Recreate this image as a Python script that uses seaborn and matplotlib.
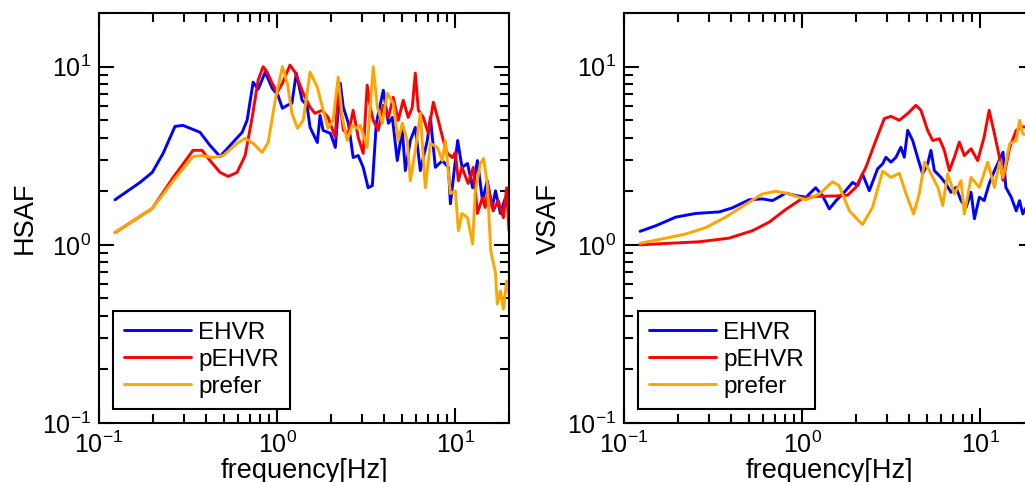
import matplotlib
matplotlib.use("Agg")
import matplotlib.pyplot as plt
import seaborn as sns
import pandas as pd

# ---------------- data ----------------
series_names = ["EHVR", "pEHVR", "prefer"]
series_colors = ["#0000ff", "#ff0000", "#ffa500"]

# Left panel: HSAF
h_ehvr_f = [0.123, 0.170, 0.199, 0.229, 0.267, 0.296, 0.369, 0.420, 0.478, 0.544,
            0.636, 0.678, 0.733, 0.782, 0.857, 0.937, 1.01, 1.07, 1.14, 1.21,
            1.28, 1.38, 1.47, 1.53, 1.68, 1.74, 1.81, 1.99, 2.12, 2.26,
            2.35, 2.51, 2.67, 2.85, 3.04, 3.24, 3.42, 3.60, 3.94, 4.21,
            4.43, 4.72, 5.04, 5.24, 5.59, 5.96, 6.36, 6.96, 7.24, 7.72,
            8.45, 9.14, 9.38, 10.3, 10.9, 11.7, 12.5, 13.3, 14.2, 15.1,
            16.1, 16.8, 17.9, 19.1, 20.0]
h_ehvr_v = [1.79, 2.24, 2.55, 3.26, 4.62, 4.68, 4.28, 3.61, 3.13, 3.61,
            4.28, 5.00, 8.18, 7.47, 9.31, 7.57, 6.91, 5.84, 6.07, 6.23,
            9.19, 6.48, 6.07, 4.56, 3.75, 5.33, 4.39, 4.22, 3.52, 8.07,
            5.91, 4.81, 3.09, 3.17, 2.72, 2.09, 2.15, 4.81, 7.37, 4.81,
            5.19, 2.97, 4.39, 2.61, 3.85, 4.56, 2.61, 3.85, 5.19, 2.72,
            2.97, 2.72, 1.70, 3.85, 2.72, 2.86, 2.09, 2.97, 1.77, 2.29,
            1.62, 2.01, 1.50, 1.84, 1.62]

h_pehvr_f = [0.123, 0.199, 0.261, 0.337, 0.379, 0.420, 0.478, 0.531, 0.596, 0.661,
             0.724, 0.782, 0.834, 0.879, 0.937, 1.00, 1.07, 1.18, 1.26, 1.40,
             1.53, 1.63, 1.79, 1.93, 2.12, 2.20, 2.35, 2.51, 2.67, 2.85,
             3.04, 3.20, 3.33, 3.46, 3.69, 3.94, 4.21, 4.48, 4.78, 5.10,
             5.44, 5.73, 5.96, 6.20, 6.61, 7.05, 7.52, 8.02, 8.56, 9.02,
             9.62, 10.0, 10.4, 10.9, 11.8, 12.6, 13.3, 14.2, 14.7, 15.3,
             16.3, 17.4, 18.6, 19.4, 20.0]
h_pehvr_v = [1.17, 1.60, 2.39, 3.39, 3.39, 2.97, 2.55, 2.42, 2.55, 3.17,
             5.19, 8.39, 10.0, 9.31, 8.07, 7.18, 8.07, 10.2, 9.31, 7.09,
             5.91, 5.47, 5.69, 5.19, 4.01, 7.57, 4.39, 4.22, 5.69, 4.01,
             3.26, 7.87, 5.91, 5.00, 4.39, 6.07, 5.19, 6.73, 5.00, 6.48,
             5.19, 5.91, 9.19, 5.69, 5.19, 4.22, 6.31, 5.00, 3.85, 3.26,
             3.09, 3.30, 2.29, 2.72, 2.21, 2.72, 1.50, 1.84, 1.62, 2.09,
             1.55, 1.77, 1.42, 2.09, 1.20]

h_prefer_f = [0.123, 0.199, 0.261, 0.337, 0.379, 0.437, 0.497, 0.596, 0.661, 0.733,
              0.824, 0.890, 0.975, 1.07, 1.14, 1.21, 1.30, 1.40, 1.53, 1.68,
              1.81, 1.93, 2.06, 2.20, 2.32, 2.47, 2.64, 2.81, 2.93, 3.20,
              3.46, 3.65, 3.89, 4.15, 4.48, 4.78, 5.04, 5.37, 5.59, 5.96,
              6.36, 6.78, 7.24, 7.92, 8.45, 8.79, 9.38, 10.0, 10.4, 10.9,
              11.7, 12.5, 12.9, 13.8, 14.4, 15.1, 15.8, 16.8, 17.2, 17.9,
              18.6, 19.4, 20.0]
h_prefer_v = [1.17, 1.60, 2.29, 3.13, 3.17, 3.09, 3.17, 3.71, 3.96, 3.71,
              3.30, 3.75, 6.48, 10.0, 8.07, 5.47, 4.50, 5.00, 9.31, 7.67,
              5.69, 4.50, 5.00, 8.73, 5.19, 3.85, 4.68, 4.50, 4.68, 3.52,
              10.0, 5.91, 4.81, 7.09, 6.23, 3.85, 4.81, 3.85, 2.29, 3.39,
              5.47, 2.09, 3.71, 3.52, 2.97, 3.85, 1.94, 2.01, 1.20, 1.50,
              1.42, 1.01, 1.94, 2.86, 3.05, 2.21, 0.925, 0.695, 0.465, 0.551,
              0.436, 0.627, 0.530]

# Right panel: VSAF
v_ehvr_f = [0.123, 0.151, 0.195, 0.253, 0.342, 0.404, 0.504, 0.598, 0.681, 0.809,
            0.921, 1.05, 1.19, 1.30, 1.42, 1.55, 1.72, 1.92, 2.05, 2.18,
            2.38, 2.65, 2.83, 2.95, 3.15, 3.36, 3.58, 3.74, 3.91, 4.17,
            4.44, 4.74, 5.06, 5.28, 5.52, 6.01, 6.41, 6.84, 7.30, 7.79,
            8.31, 8.87, 9.26, 9.87, 10.5, 11.2, 12.0, 12.5, 13.4, 13.9,
            14.9, 15.9, 16.6, 17.3, 18.5, 20.0]
v_ehvr_v = [1.19, 1.28, 1.43, 1.50, 1.53, 1.61, 1.79, 1.81, 1.77, 1.95,
            1.89, 1.85, 2.09, 1.89, 1.59, 1.77, 1.97, 2.24, 2.15, 2.50,
            2.01, 2.67, 2.85, 3.10, 2.91, 3.10, 3.53, 3.10, 4.39, 3.85,
            3.10, 2.50, 2.85, 3.39, 2.61, 2.39, 2.20, 1.97, 2.10, 1.77,
            1.62, 1.97, 1.40, 1.85, 1.77, 2.20, 2.61, 2.85, 3.31, 2.10,
            1.85, 1.55, 1.77, 1.49, 1.70, 1.60]

v_pehvr_f = [0.123, 0.179, 0.264, 0.389, 0.526, 0.653, 0.809, 1.00, 1.19, 1.55,
             1.80, 2.00, 2.28, 2.59, 2.89, 3.15, 3.51, 3.91, 4.35, 4.64,
             5.06, 5.40, 5.89, 6.28, 6.70, 7.15, 7.62, 8.13, 8.87, 9.66,
             10.5, 11.2, 12.0, 12.8, 13.4, 14.6, 15.9, 17.3, 20.0]
v_pehvr_v = [1.00, 1.02, 1.04, 1.09, 1.20, 1.34, 1.58, 1.82, 1.87, 1.88,
             1.90, 2.10, 2.73, 3.85, 5.11, 5.26, 5.00, 5.45, 6.07, 5.69,
             4.39, 3.85, 3.94, 3.39, 2.61, 3.10, 3.77, 3.17, 3.46, 2.97,
             4.02, 5.69, 4.20, 3.10, 2.30, 3.50, 4.40, 4.60, 4.50]

v_prefer_f = [0.123, 0.164, 0.222, 0.288, 0.372, 0.483, 0.598, 0.711, 0.845, 1.05,
              1.25, 1.48, 1.61, 1.84, 2.18, 2.48, 2.83, 3.15, 3.51, 3.83,
              4.22, 4.54, 4.86, 5.17, 5.78, 6.15, 6.55, 7.15, 7.79, 8.13,
              8.87, 9.87, 11.0, 12.0, 12.8, 13.4, 14.6, 15.9, 16.6, 17.3,
              20.0]
v_prefer_v = [1.02, 1.08, 1.15, 1.25, 1.43, 1.69, 1.93, 2.00, 1.93, 1.79,
              1.93, 2.26, 2.15, 1.55, 1.30, 1.62, 2.59, 2.39, 2.52, 1.93,
              1.49, 1.93, 2.91, 2.61, 2.10, 1.66, 2.50, 1.93, 2.29, 1.49,
              2.39, 2.10, 2.91, 2.10, 2.91, 2.39, 3.69, 3.85, 5.00, 4.20,
              4.00]

x_label = "frequency[Hz]"
panel_ylabels = ["HSAF", "VSAF"]
x_limits = (0.1, 20)
y_limits = (0.1, 20)

# ---------------- style ----------------
sns.set_style("ticks")
plt.rcParams["font.family"] = ["Liberation Sans", "DejaVu Sans"]
plt.rcParams["mathtext.fontset"] = "custom"
plt.rcParams["mathtext.rm"] = "Liberation Sans"
plt.rcParams["mathtext.it"] = "Liberation Sans"
plt.rcParams["mathtext.default"] = "regular"
for key in ["text.color", "axes.labelcolor", "xtick.color", "ytick.color",
            "axes.edgecolor", "xtick.labelcolor", "ytick.labelcolor"]:
    plt.rcParams[key] = "black"

fig = plt.figure(figsize=(10.25, 4.82), dpi=100)
W, H = 1025, 482
ax_l = fig.add_axes([99 / W, (H - 423) / H, 410 / W, 410 / H])
ax_r = fig.add_axes([624 / W, (H - 423) / H, 410 / W, 410 / H])

panels = [
    (ax_l, [(h_ehvr_f, h_ehvr_v), (h_pehvr_f, h_pehvr_v), (h_prefer_f, h_prefer_v)], panel_ylabels[0]),
    (ax_r, [(v_ehvr_f, v_ehvr_v), (v_pehvr_f, v_pehvr_v), (v_prefer_f, v_prefer_v)], panel_ylabels[1]),
]

for ax, data, ylab in panels:
    for (fx, fy), name, col in zip(data, series_names, series_colors):
        df = pd.DataFrame({"f": fx, "v": fy})
        sns.lineplot(data=df, x="f", y="v", ax=ax, color=col, linewidth=2.1,
                     label=name, estimator=None, sort=False)
    ax.set_xscale("log")
    ax.set_yscale("log")
    ax.set_xlim(*x_limits)
    ax.set_ylim(*y_limits)
    ax.set_xlabel(x_label, fontsize=19.5, labelpad=0)
    ax.set_ylabel(ylab, fontsize=19.5, labelpad=3)
    ax.tick_params(which="both", direction="in", top=True, right=True,
                   color="black", labelcolor="black", width=1.5, labelsize=18)
    ax.tick_params(which="major", length=10.8, pad=6)
    ax.tick_params(which="minor", length=6.5)
    for sp in ax.spines.values():
        sp.set_linewidth(1.5)
        sp.set_color("black")
    leg = ax.legend(loc="lower left", bbox_to_anchor=(0.035, 0.035), borderaxespad=0,
                    fontsize=17.5, frameon=True, fancybox=False, framealpha=1,
                    edgecolor="black", handlelength=2.75, handletextpad=0.3,
                    labelspacing=0.2, borderpad=0.45)
    leg.get_frame().set_linewidth(1.5)
    for t in leg.get_texts():
        t.set_color("black")

fig.savefig("out.png", dpi=100)
